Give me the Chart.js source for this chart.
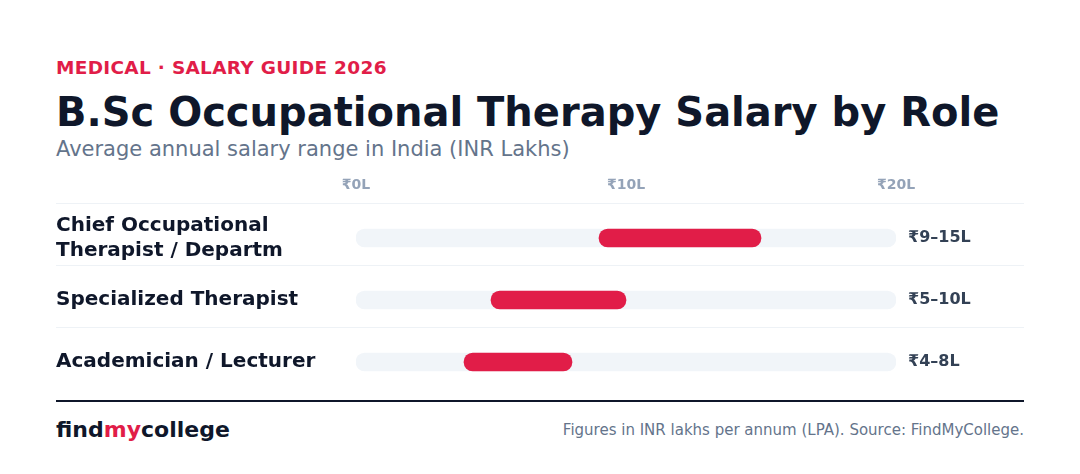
<!DOCTYPE html>
<html>
<head>
<meta charset="utf-8">
<script src="https://cdn.jsdelivr.net/npm/chart.js@4.4.1/dist/chart.umd.min.js"></script>
<style>
  html, body { margin: 0; padding: 0; background: #ffffff; }
  body { width: 1080px; height: 474px; position: relative; overflow: hidden; font-family: "DejaVu Sans", sans-serif; }
  .txt { position: absolute; white-space: nowrap; line-height: 1; }
  #eyebrow { left: 56px; top: 59px; font-size: 18.5px; font-weight: bold; color: #e11d48; letter-spacing: 0.3px; }
  #title { left: 56px; top: 92px; font-size: 40px; font-weight: bold; color: #0f172a; }
  #subtitle { left: 56px; top: 139px; font-size: 21px; color: #64748b; }
  #chartBox { position: absolute; left: 0; top: 171px; width: 1080px; height: 222px; }
  #rule { position: absolute; left: 56px; top: 400px; width: 968px; height: 2px; background: #0f172a; }
  #brand { left: 56px; top: 419px; font-size: 22px; font-weight: bold; color: #0f172a; }
  #brand span { color: #e11d48; }
  #source { right: 56px; top: 423px; font-size: 15px; color: #64748b; }
</style>
</head>
<body>
<div class="txt" id="eyebrow">MEDICAL · SALARY GUIDE 2026</div>
<div class="txt" id="title">B.Sc Occupational Therapy Salary by Role</div>
<div class="txt" id="subtitle">Average annual salary range in India (INR Lakhs)</div>
<div id="chartBox"><canvas id="salaryChart" width="1080" height="222"></canvas></div>
<div id="rule"></div>
<div class="txt" id="brand">find<span>my</span>college</div>
<div class="txt" id="source">Figures in INR lakhs per annum (LPA). Source: FindMyCollege.</div>

<script>
// Datos del gráfico
var roles = [["Chief Occupational", "Therapist / Departm"], "Specialized Therapist", "Academician / Lecturer"];
var salaryMin = [9, 5, 4];
var salaryMax = [15, 10, 8];
var rangeLabels = ["₹9–15L", "₹5–10L", "₹4–8L"];
var scaleMax = 20;
var tickStep = 10;

// Pistas grises de fondo (0 a 20)
function buildTrack() {
    var track = [];
    for (var i = 0; i < roles.length; i++) {
        track.push([0, scaleMax]);
    }
    return track;
}

function buildRanges() {
    var ranges = [];
    for (var i = 0; i < roles.length; i++) {
        ranges.push([salaryMin[i], salaryMax[i]]);
    }
    return ranges;
}

// Quitar el relleno automático que Chart.js añade para las etiquetas
function fixVerticalPadding(scale) {
    scale.paddingTop = 0;
    scale.paddingBottom = 0;
}

// Líneas separadoras entre filas
var rowLines = {
    id: 'rowLines',
    beforeDatasetsDraw: function(chart) {
        var ctx = chart.ctx;
        var yScale = chart.scales.y;
        ctx.save();
        ctx.strokeStyle = '#eef2f6';
        ctx.lineWidth = 1;
        for (var i = 0; i < roles.length; i++) {
            var y = Math.round(yScale.getPixelForValue(i) - 35) + 0.5;
            ctx.beginPath();
            ctx.moveTo(56, y);
            ctx.lineTo(1024, y);
            ctx.stroke();
        }
        ctx.restore();
    }
};

document.addEventListener('DOMContentLoaded', function() {
    var ctx = document.getElementById('salaryChart').getContext('2d');
    var grafico = new Chart(ctx, {
        type: 'bar',
        data: {
            labels: roles,
            datasets: [{
                label: 'Salary range',
                data: buildRanges(),
                backgroundColor: '#e11d48',
                barThickness: 18,
                borderRadius: 9,
                borderSkipped: false,
                grouped: false,
                order: 0
            }, {
                label: 'Track',
                data: buildTrack(),
                backgroundColor: '#f1f5f9',
                barThickness: 18,
                borderRadius: 9,
                borderSkipped: false,
                grouped: false,
                order: 1
            }]
        },
        options: {
            indexAxis: 'y',
            responsive: false,
            animation: false,
            layout: { padding: { left: 56, right: 0, top: 0, bottom: 0 } },
            plugins: {
                legend: { display: false },
                tooltip: { enabled: false }
            },
            scales: {
                x: {
                    type: 'linear',
                    position: 'top',
                    min: 0,
                    max: scaleMax,
                    grid: { display: false, drawTicks: false },
                    border: { display: false },
                    ticks: {
                        stepSize: tickStep,
                        padding: 13,
                        color: '#94a3b8',
                        font: { family: 'DejaVu Sans', size: 14, weight: 'bold' },
                        maxRotation: 0,
                        callback: function(v) { return '₹' + v + 'L'; }
                    },
                    afterFit: function(scale) { scale.height = 36; }
                },
                y: {
                    type: 'category',
                    position: 'left',
                    offset: true,
                    grid: { display: false, drawTicks: false },
                    border: { display: false },
                    ticks: {
                        crossAlign: 'far',
                        color: '#0f172a',
                        font: { family: 'DejaVu Sans', size: 20, weight: 'bold', lineHeight: 1.25 }
                    },
                    afterFit: function(scale) { scale.width = 300; fixVerticalPadding(scale); }
                },
                y2: {
                    type: 'category',
                    position: 'right',
                    labels: rangeLabels,
                    offset: true,
                    grid: { display: false, drawTicks: false },
                    border: { display: false },
                    ticks: {
                        padding: 12,
                        color: '#334155',
                        font: { family: 'DejaVu Sans', size: 16, weight: 'bold' }
                    },
                    afterFit: function(scale) { scale.width = 184; fixVerticalPadding(scale); }
                }
            }
        },
        plugins: [rowLines]
    });
    window.instanciaGrafico = grafico;
});
</script>
</body>
</html>
